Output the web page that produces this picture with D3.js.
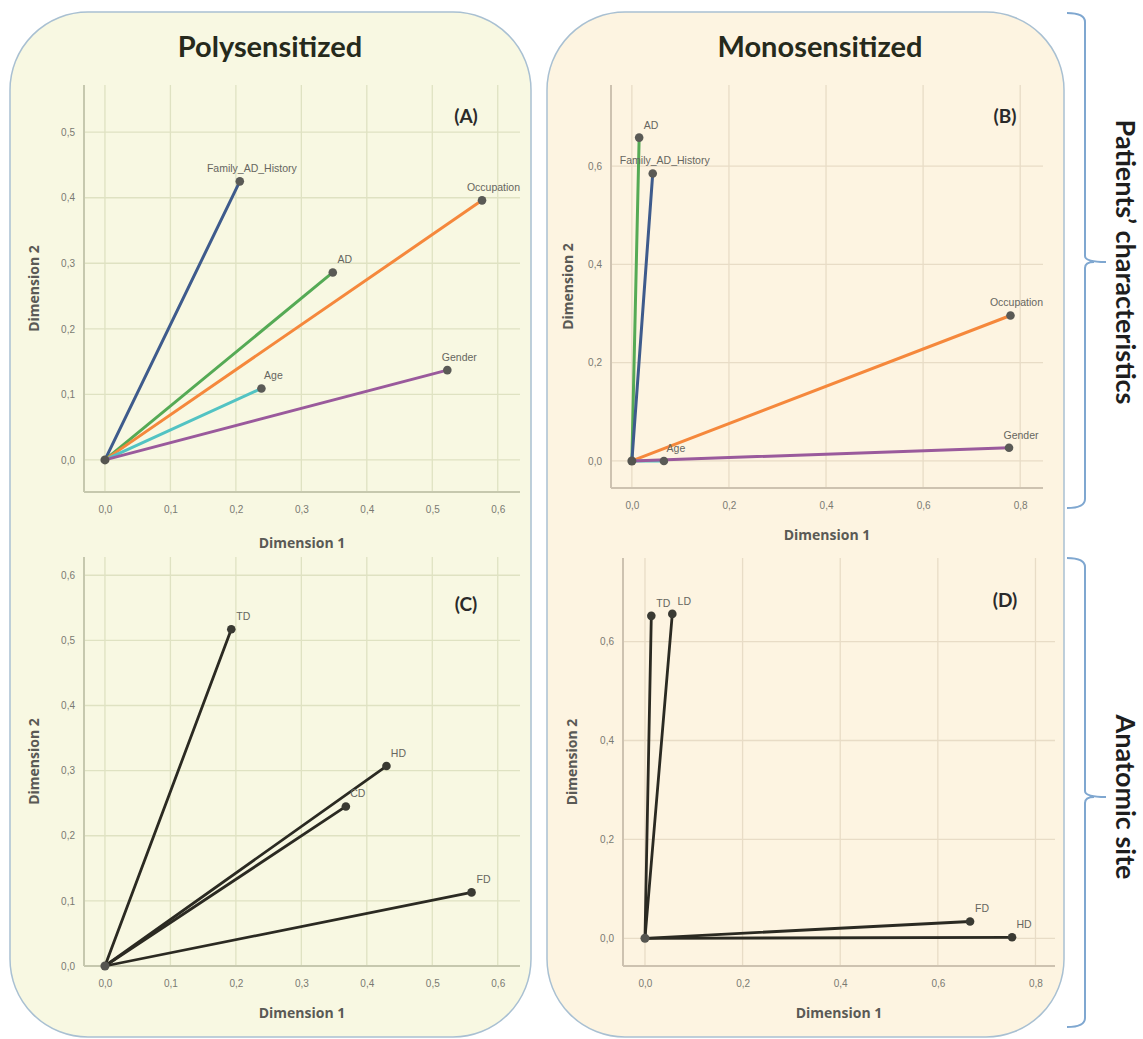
<!DOCTYPE html>
<html>
<head>
<meta charset="utf-8">
<script src="https://cdn.jsdelivr.net/npm/d3@7"></script>
<style>
  html, body { margin: 0; padding: 0; background: #ffffff; }
  svg { display: block; }
</style>
</head>
<body>
<svg id="chart" width="1143" height="1039"></svg>
<script>
// ---------------- DATA ----------------
const panelA_vars = ["Family_AD_History", "AD", "Occupation", "Age", "Gender"];
const panelA_dim1 = [0.206, 0.348, 0.576, 0.239, 0.523];
const panelA_dim2 = [0.425, 0.286, 0.396, 0.109, 0.137];

const panelB_vars = ["AD", "Family_AD_History", "Occupation", "Age", "Gender"];
const panelB_dim1 = [0.015, 0.043, 0.780, 0.066, 0.777];
const panelB_dim2 = [0.658, 0.585, 0.296, 0.000, 0.027];

const panelC_vars = ["TD", "HD", "CD", "FD"];
const panelC_dim1 = [0.193, 0.430, 0.368, 0.560];
const panelC_dim2 = [0.517, 0.307, 0.245, 0.113];

const panelD_vars = ["TD", "LD", "FD", "HD"];
const panelD_dim1 = [0.013, 0.056, 0.666, 0.752];
const panelD_dim2 = [0.652, 0.656, 0.034, 0.002];

const ticksA_x = [0, 0.1, 0.2, 0.3, 0.4, 0.5, 0.6];
const ticksA_y = [0, 0.1, 0.2, 0.3, 0.4, 0.5];
const ticksB_x = [0, 0.2, 0.4, 0.6, 0.8];
const ticksB_y = [0, 0.2, 0.4, 0.6];
const ticksC_x = [0, 0.1, 0.2, 0.3, 0.4, 0.5, 0.6];
const ticksC_y = [0, 0.1, 0.2, 0.3, 0.4, 0.5, 0.6];
const ticksD_x = [0, 0.2, 0.4, 0.6, 0.8];
const ticksD_y = [0, 0.2, 0.4, 0.6];

const groupTitles = ["Polysensitized", "Monosensitized"];
const sideLabels = ["Patients\u2019 characteristics", "Anatomic site"];
const panelTags = ["(A)", "(B)", "(C)", "(D)"];
const axisTitles = ["Dimension 1", "Dimension 2"];

// ---------------- STYLE ----------------
const varColors = {
  "Family_AD_History": "#3e5b8c",
  "AD": "#55aa55",
  "Occupation": "#f5883c",
  "Age": "#52c3c3",
  "Gender": "#9a5a9c"
};
const fmt = v => d3.format(".1f")(v).replace(".", ",");

const svg = d3.select("#chart");

// panel backgrounds
svg.append("rect").attr("x", 10).attr("y", 12).attr("width", 521).attr("height", 1025)
  .attr("rx", 78).attr("ry", 78).attr("fill", "#f8f8e2").attr("stroke", "#a9c0d2").attr("stroke-width", 1.5);
svg.append("rect").attr("x", 547).attr("y", 12).attr("width", 517).attr("height", 1025)
  .attr("rx", 78).attr("ry", 78).attr("fill", "#fdf4e1").attr("stroke", "#a9c0d2").attr("stroke-width", 1.5);

// group titles
svg.append("text").attr("x", 270).attr("y", 57).attr("text-anchor", "middle")
  .attr("font-family", "Lato, 'Open Sans', sans-serif").attr("font-weight", 700)
  .attr("font-size", 29).attr("fill", "#262a1c").text(groupTitles[0]);
svg.append("text").attr("x", 820).attr("y", 57).attr("text-anchor", "middle")
  .attr("font-family", "Lato, 'Open Sans', sans-serif").attr("font-weight", 700)
  .attr("font-size", 29).attr("fill", "#262a1c").text(groupTitles[1]);

// braces + side labels
function brace(top, mid, bottom, label) {
  const xv = 1085, xl = 1067, xt = 1106;
  const p = `M${xl},${top} Q${xv},${top} ${xv},${top + 9} V${mid - 6} Q${xv},${mid} ${xt},${mid} ` +
            `M${xv},${mid + 6} Q${xv},${mid} ${xt - 12},${mid} ` +
            `M${xv},${mid + 6} V${bottom - 9} Q${xv},${bottom} ${xl},${bottom}`;
  svg.append("path").attr("d", p).attr("fill", "none").attr("stroke", "#7fa7d0").attr("stroke-width", 2);
  svg.append("text").attr("transform", `translate(1126,${mid}) rotate(90)`)
    .attr("text-anchor", "middle").attr("dominant-baseline", "central")
    .attr("font-family", "Lato, 'Open Sans', sans-serif").attr("font-size", 27).attr("font-weight", 700)
    .attr("fill", "#1e1e1e").text(label);
}
brace(13, 262, 508, sideLabels[0]);
brace(558, 797, 1027, sideLabels[1]);

// ---------------- PANELS ----------------
function panel(cfg) {
  const g = svg.append("g");
  const x = d3.scaleLinear().domain(cfg.xd).range(cfg.xr);
  const y = d3.scaleLinear().domain(cfg.yd).range(cfg.yr);
  const [x0, x1] = cfg.xr, [yb, yt] = cfg.yr;

  // grid
  g.selectAll(".gx").data(cfg.tx).join("line")
    .attr("x1", d => x(d)).attr("x2", d => x(d)).attr("y1", yt).attr("y2", yb)
    .attr("stroke", cfg.grid).attr("stroke-width", 1.3);
  g.selectAll(".gy").data(cfg.ty).join("line")
    .attr("x1", x0).attr("x2", x1).attr("y1", d => y(d)).attr("y2", d => y(d))
    .attr("stroke", cfg.grid).attr("stroke-width", 1.3);

  // axes via d3 axes
  const ax = g.append("g").attr("transform", `translate(0,${yb})`)
    .call(d3.axisBottom(x).tickValues(cfg.tx).tickFormat(fmt).tickSize(0).tickPadding(14));
  const ay = g.append("g").attr("transform", `translate(${x0},0)`)
    .call(d3.axisLeft(y).tickValues(cfg.ty).tickFormat(fmt).tickSize(0).tickPadding(9));
  [ax, ay].forEach(a => {
    a.select(".domain").attr("stroke", cfg.axis).attr("stroke-width", 2);
    a.selectAll("text").attr("font-family", "'Liberation Sans', Arial, sans-serif")
      .attr("font-size", 10).attr("fill", "#7a7a72");
  });
  ax.select(".domain").attr("d", `M${x0},0H${x1}`);
  ay.select(".domain").attr("d", `M0,${yb}V${yt}`);

  // axis titles
  g.append("text").attr("x", (x0 + x1) / 2).attr("y", cfg.xtY).attr("text-anchor", "middle")
    .attr("font-family", "'Open Sans', sans-serif").attr("font-weight", 700)
    .attr("font-size", 14).attr("fill", "#5a5a55").text(axisTitles[0]);
  g.append("text").attr("transform", `translate(${cfg.ytX},${(yb + yt) / 2}) rotate(-90)`)
    .attr("text-anchor", "middle").attr("dominant-baseline", "central")
    .attr("font-family", "'Open Sans', sans-serif").attr("font-weight", 700)
    .attr("font-size", 14).attr("fill", "#5a5a55").text(axisTitles[1]);

  // tag
  g.append("text").attr("x", cfg.tagX).attr("y", cfg.tagY).attr("text-anchor", "middle")
    .attr("font-family", "Lato, 'Open Sans', sans-serif").attr("font-weight", 700)
    .attr("font-size", 19).attr("fill", "#2a2a2a").text(cfg.tag);

  const pts = cfg.vars.map((v, i) => ({ v, dx: cfg.d1[i], dy: cfg.d2[i] }));

  // vectors
  g.selectAll(".vec").data(pts).join("line")
    .attr("x1", x(0)).attr("y1", y(0))
    .attr("x2", d => x(d.dx)).attr("y2", d => y(d.dy))
    .attr("stroke", d => cfg.mono ? "#2b2a22" : varColors[d.v])
    .attr("stroke-width", cfg.mono ? 2.8 : 3).attr("stroke-linecap", "round");

  // points
  g.append("circle").attr("cx", x(0)).attr("cy", y(0)).attr("r", 4.5).attr("fill", "#555550");
  g.selectAll(".pt").data(pts).join("circle")
    .attr("cx", d => x(d.dx)).attr("cy", d => y(d.dy)).attr("r", 4.3)
    .attr("fill", cfg.mono ? "#3a3a33" : "#5a5a56");

  // labels
  g.selectAll(".lb").data(pts).join("text")
    .attr("font-family", "'Liberation Sans', Arial, sans-serif").attr("font-size", 10.5)
    .attr("fill", "#666660").attr("text-anchor", "middle")
    .attr("y", d => y(d.dy) - 9)
    .text(d => d.v)
    .attr("x", function (d) {
      const w = this.getComputedTextLength();
      let cx = x(d.dx) + 12;
      if (cx + w / 2 > x1) cx = x1 - w / 2;
      return cx;
    });
}

panel({ vars: panelA_vars, d1: panelA_dim1, d2: panelA_dim2, tx: ticksA_x, ty: ticksA_y,
  xd: [-0.032, 0.634], xr: [84, 520], yd: [-0.049, 0.572], yr: [492, 85],
  grid: "#dfe2c2", axis: "#c6c8ae", xtY: 548, ytX: 33, tag: panelTags[0], tagX: 466, tagY: 123, mono: false });

panel({ vars: panelB_vars, d1: panelB_dim1, d2: panelB_dim2, tx: ticksB_x, ty: ticksB_y,
  xd: [-0.043, 0.847], xr: [611, 1043], yd: [-0.055, 0.765], yr: [488, 85],
  grid: "#e8dcc6", axis: "#cdc2b0", xtY: 540, ytX: 567, tag: panelTags[1], tagX: 1005, tagY: 123, mono: false });

panel({ vars: panelC_vars, d1: panelC_dim1, d2: panelC_dim2, tx: ticksC_x, ty: ticksC_y,
  xd: [-0.032, 0.634], xr: [84, 520], yd: [0, 0.628], yr: [966, 557],
  grid: "#dfe2c2", axis: "#c6c8ae", xtY: 1018, ytX: 33, tag: panelTags[2], tagX: 466, tagY: 611, mono: true });

panel({ vars: panelD_vars, d1: panelD_dim1, d2: panelD_dim2, tx: ticksD_x, ty: ticksD_y,
  xd: [-0.045, 0.84], xr: [623, 1055], yd: [-0.056, 0.769], yr: [966, 558],
  grid: "#e8dcc6", axis: "#cdc2b0", xtY: 1018, ytX: 571, tag: panelTags[3], tagX: 1005, tagY: 607, mono: true });
</script>
</body>
</html>
